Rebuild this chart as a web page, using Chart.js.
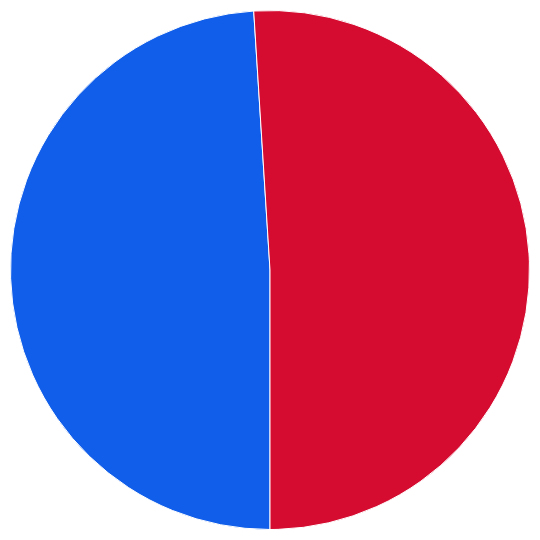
<!DOCTYPE html>
<html lang="en">
<head>
    <meta charset="UTF-8">
    <title>Pie</title>
    <script src="https://cdn.jsdelivr.net/npm/chart.js"></script>
    <style>
        html, body { margin: 0; padding: 0; background: #ffffff; }
    </style>
</head>
<body>
    <div style="width:540px; height:540px;">
        <canvas id="grafico1"></canvas>
    </div>

    <script>
        // data
        const categorias = ["Blue", "Red"]
        const valores = [49, 51]
        const cores = ["#105ee9", "#d60b30"]

        const ctx = document.getElementById("grafico1")

        const grafico1 = new Chart(ctx, {
          type: 'pie',
          data: {
            labels: categorias,
            datasets: [{
              data: valores,
              backgroundColor: cores,
              borderColor: '#ffffff',
              borderWidth: 1
            }]
          },
          options: {
            responsive: true,
            maintainAspectRatio: false,
            animation: false,
            rotation: 180,
            layout: { padding: 10 },
            plugins: {
              legend: { display: false },
              tooltip: { enabled: false }
            }
          }
        })
      </script>
</body>
</html>
